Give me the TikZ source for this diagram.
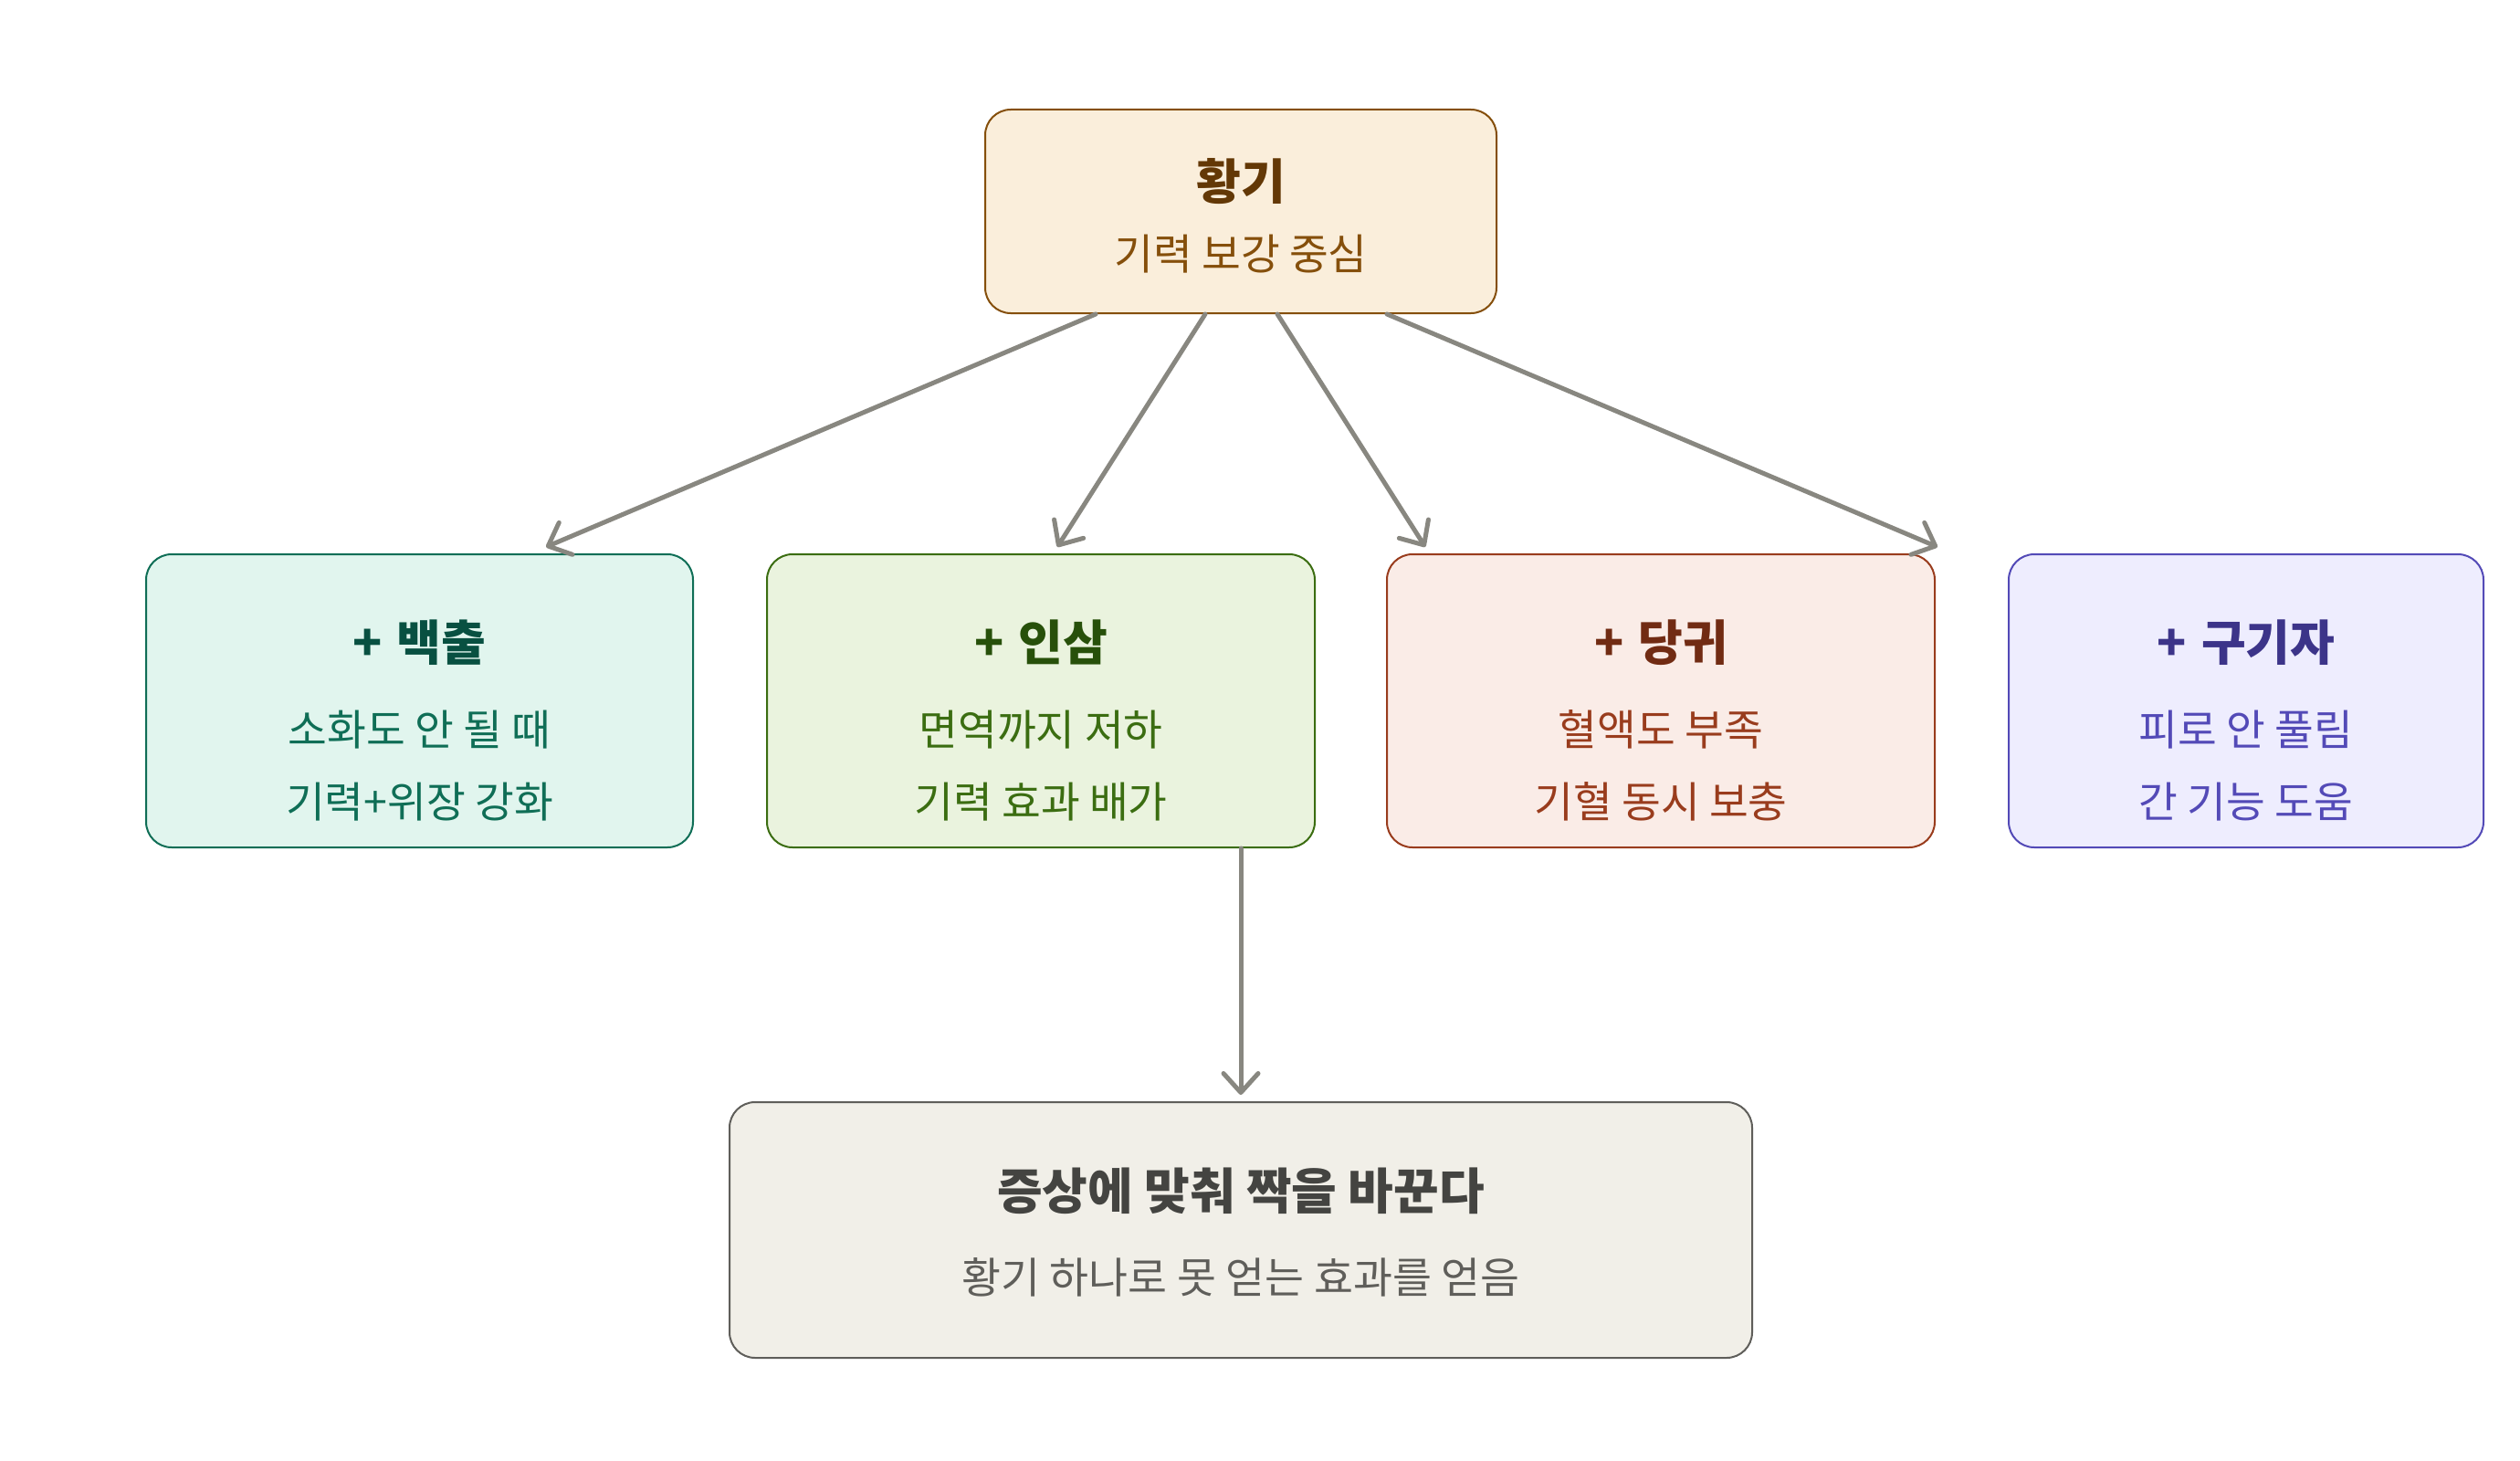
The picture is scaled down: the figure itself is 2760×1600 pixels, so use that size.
\documentclass[tikz,border=0pt]{standalone}
\usepackage{fontspec}
\setmainfont{Noto Sans CJK KR}
\usetikzlibrary{arrows.meta}
\definecolor{topfill}{HTML}{FAEEDB}
\definecolor{topdraw}{HTML}{854F0B}
\definecolor{toptitle}{HTML}{633806}
\definecolor{toptext}{HTML}{854F0B}
\definecolor{gfill}{HTML}{E1F5EE}
\definecolor{gdraw}{HTML}{0F6E56}
\definecolor{gtitle}{HTML}{085041}
\definecolor{gtext}{HTML}{0F6E56}
\definecolor{lfill}{HTML}{EAF3DE}
\definecolor{ldraw}{HTML}{3B6D11}
\definecolor{ltitle}{HTML}{27500A}
\definecolor{ltext}{HTML}{3B6D11}
\definecolor{rfill}{HTML}{FAECE7}
\definecolor{rdraw}{HTML}{993C1D}
\definecolor{rtitle}{HTML}{712B13}
\definecolor{rtext}{HTML}{993C1D}
\definecolor{pfill}{HTML}{EEEDFE}
\definecolor{pdraw}{HTML}{534AB7}
\definecolor{ptitle}{HTML}{3C3489}
\definecolor{ptext}{HTML}{534AB7}
\definecolor{bfill}{HTML}{F1EFE8}
\definecolor{bdraw}{HTML}{5F5E5A}
\definecolor{btitle}{HTML}{444441}
\definecolor{btext}{HTML}{5F5E5A}
\definecolor{arrcol}{HTML}{888780}
\begin{document}
\begin{tikzpicture}[x=1pt,y=-1pt,
  box/.style={rectangle, rounded corners=28pt, line width=2pt, inner sep=0pt},
  ttl/.style={anchor=base, inner sep=0pt, font=\fontsize{53}{60}\selectfont\bfseries},
  sub/.style={anchor=base, inner sep=0pt, font=\fontsize{46.5}{52}\selectfont},
  bttl/.style={anchor=base, inner sep=0pt, font=\fontsize{54}{62}\selectfont\bfseries},
  bsub/.style={anchor=base, inner sep=0pt, font=\fontsize{46.7}{54}\selectfont},
  arr/.style={draw=arrcol, line width=5pt, line cap=round,
    -{Straight Barb[length=21pt,width=38pt,line cap=round,line join=round]}}]
\useasboundingbox (0,0) rectangle (2760,1600);
\fill[white] (0,0) rectangle (2760,1600);
% boxes
\node[box, draw=topdraw, fill=topfill, minimum width=560pt, minimum height=223pt] (top) at (1359,231.5) {};
\node[box, draw=gdraw, fill=gfill, minimum width=599pt, minimum height=321pt] (b1) at (459.5,767.5) {};
\node[box, draw=ldraw, fill=lfill, minimum width=600pt, minimum height=321pt] (b2) at (1140,767.5) {};
\node[box, draw=rdraw, fill=rfill, minimum width=600pt, minimum height=321pt] (b3) at (1819,767.5) {};
\node[box, draw=pdraw, fill=pfill, minimum width=520pt, minimum height=321pt] (b4) at (2460,767.5) {};
\node[box, draw=bdraw, fill=bfill, minimum width=1120pt, minimum height=280pt] (bot) at (1359,1347) {};
% texts
\node[ttl, text=toptitle] (topT) at (1359,218) {황기};
\node[sub, text=toptext] (topS) at (1359,295) {기력 보강 중심};
\node[ttl, text=gtitle] (b1T) at (459.5,723) {+\hspace{4pt} 백출};
\node[sub, text=gtext] (b1A) at (459.5,816) {소화도 안 될 때};
\node[sub, text=gtext] (b1B) at (459.5,895) {기력+위장 강화};
\node[ttl, text=ltitle] (b2T) at (1140,723) {+\hspace{4pt} 인삼};
\node[sub, text=ltext] (b2A) at (1140,816) {면역까지 저하};
\node[sub, text=ltext] (b2B) at (1140,895) {기력 효과 배가};
\node[ttl, text=rtitle] (b3T) at (1819,723) {+\hspace{4pt} 당귀};
\node[sub, text=rtext] (b3A) at (1819,816) {혈액도 부족};
\node[sub, text=rtext] (b3B) at (1819,895) {기혈 동시 보충};
\node[ttl, text=ptitle] (b4T) at (2460,723) {+\hspace{4pt} 구기자};
\node[sub, text=ptext] (b4A) at (2460,816) {피로 안 풀림};
\node[sub, text=ptext] (b4B) at (2460,895) {간 기능 도움};
\node[bttl, text=btitle] (botT) at (1359,1324) {증상에 맞춰 짝을 바꾼다};
\node[bsub, text=btext] (botS) at (1359,1416) {황기 하나로 못 얻는 효과를 얻음};
% arrows
\draw[arr] ([xshift=-159pt]top.south) -- ([xshift=138.5pt,yshift=7pt]b1.north);
\draw[arr] ([xshift=-39pt]top.south) -- ([xshift=18pt,yshift=7pt]b2.north);
\draw[arr] ([xshift=40pt]top.south) -- ([xshift=-258pt,yshift=7pt]b3.north);
\draw[arr] ([xshift=160pt]top.south) -- ([xshift=2pt,yshift=7pt]b3.north east);
\draw[arr] (b2.south -| bot.north) -- ([yshift=7pt]bot.north);
\end{tikzpicture}
\end{document}
